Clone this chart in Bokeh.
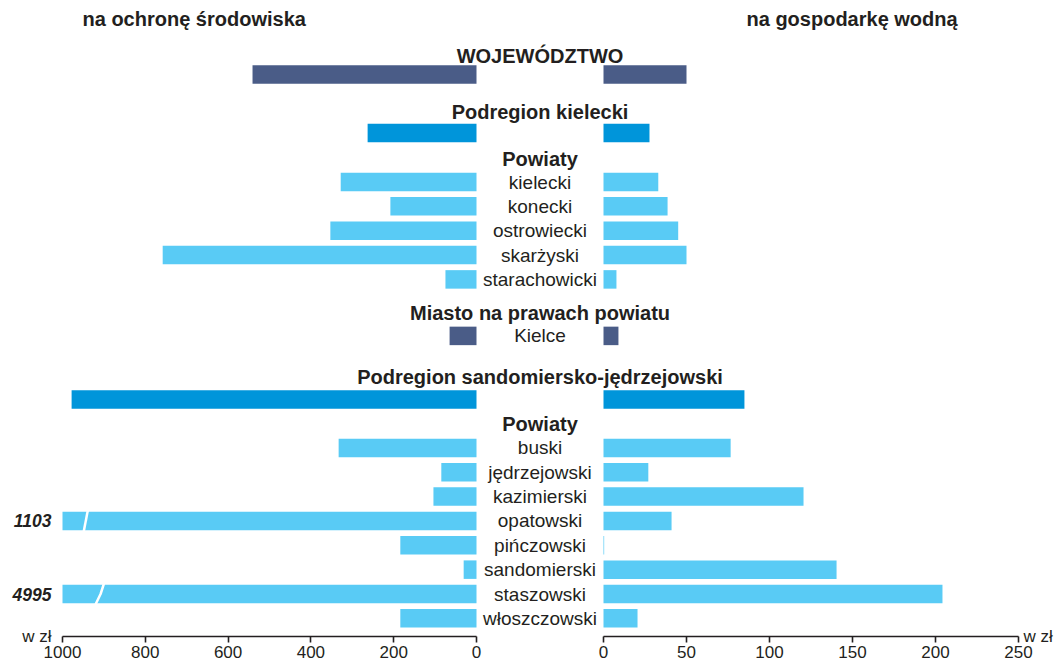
from bokeh.plotting import figure
from bokeh.models import Range1d, LinearAxis, FixedTicker
from bokeh.core.properties import value
from bokeh.embed import file_html
from bokeh.resources import INLINE

# ---------------- data ----------------
units = ["WOJEWÓDZTWO", "Podregion kielecki",
         "kielecki", "konecki", "ostrowiecki", "skarżyski", "starachowicki",
         "Kielce",
         "Podregion sandomiersko-jędrzejowski",
         "buski", "jędrzejowski", "kazimierski", "opatowski", "pińczowski",
         "sandomierski", "staszowski", "włoszczowski"]
unit_level = ["woj", "podregion",
              "powiat", "powiat", "powiat", "powiat", "powiat",
              "miasto",
              "podregion",
              "powiat", "powiat", "powiat", "powiat", "powiat",
              "powiat", "powiat", "powiat"]
env_protection = [541, 263,
                  328, 208, 353, 758, 75,
                  65,
                  978,
                  333, 85, 104, 1103, 184, 31, 4995, 184]
water_management = [50, 27.7,
                     33, 38.6, 45, 50, 7.8,
                     9,
                     84.9,
                     76.6, 27, 120.5, 41, 0.4, 140.4, 204.2, 20.5]
group_headers = ["WOJEWÓDZTWO", "Podregion kielecki", "Powiaty",
                 "Miasto na prawach powiatu",
                 "Podregion sandomiersko-jędrzejowski", "Powiaty"]
group_sizes = [1, 1, 5, 1, 1, 8]
left_ticks = [0, 200, 400, 600, 800, 1000]
right_ticks = [0, 50, 100, 150, 200, 250]
left_title = "na ochronę środowiska"
right_title = "na gospodarkę wodną"
unit_label = "w zł"
LEFT_MAX = 1000
RIGHT_MAX = 250

# ---------------- style / layout ----------------
FONT = "Liberation Sans"
TXT = "#231f20"
LEVEL_COLOR = {"woj": "#4a5c87", "podregion": "#0095da",
               "powiat": "#59cbf5", "miasto": "#4a5c87"}
W, H = 1058, 666
FRAME_X0, FRAME_X1 = 0, W
L_MAX_PX, L_ZERO_PX = 62, 476
R_ZERO_PX, R_MAX_PX = 603, 1018
MID_X = (L_ZERO_PX + R_ZERO_PX) / 2
l_per_px = LEFT_MAX / (L_ZERO_PX - L_MAX_PX)
r_per_px = RIGHT_MAX / (R_MAX_PX - R_ZERO_PX)
L_START = LEFT_MAX + (L_MAX_PX - FRAME_X0) * l_per_px
L_END = -(FRAME_X1 - L_ZERO_PX) * l_per_px
R_START = -(R_ZERO_PX - FRAME_X0) * r_per_px
R_END = (FRAME_X1 - R_ZERO_PX) * r_per_px

Y_TOP, Y_BOTTOM = 0, 666
AXIS_Y = 636
TITLE_Y = 18
HEAD_Y0 = 55
HEAD_TO_ROW = [19, 21.5, 23.5, 22.5, 22, 23.5]
GAP_AFTER = [37, 25.5, 34, 41.5, 25, 0]
ROW_STEP = 24.35
BAR_H = 18.5

header_y, row_y = [], []
y = HEAD_Y0
for g, n in enumerate(group_sizes):
    header_y.append(y)
    first = y + HEAD_TO_ROW[g]
    rows = [first + i * ROW_STEP for i in range(n)]
    row_y.extend(rows)
    y = rows[-1] + GAP_AFTER[g]

colors = [LEVEL_COLOR[l] for l in unit_level]
env_shown = [min(v, LEFT_MAX) for v in env_protection]

p = figure(width=W, height=H, output_backend="svg", toolbar_location=None,
           x_range=Range1d(L_START, L_END), y_range=Range1d(Y_BOTTOM, Y_TOP),
           x_axis_type=None, y_axis_type=None, min_border=0)
p.extra_x_ranges = {"right": Range1d(R_START, R_END),
                    "mid": Range1d(FRAME_X0, FRAME_X1)}
p.outline_line_color = None
p.background_fill_color = "white"
p.border_fill_color = "white"

# bars
p.hbar(y=row_y, left=0, right=env_shown, height=BAR_H,
       fill_color=colors, line_color=None)
p.hbar(y=row_y, left=0, right=water_management, height=BAR_H,
       fill_color=colors, line_color=None, x_range_name="right")

# break marks on truncated bars
BREAK_X = {"opatowski": [939, 948.6], "staszowski": [900, 908, 920]}
bx, by = [], []
for name, xs in BREAK_X.items():
    i = units.index(name)
    k = len(xs)
    ys = [row_y[i] - BAR_H / 2 - 1 + j * (BAR_H + 2) / (k - 1) for j in range(k)]
    bx.append(xs)
    by.append(ys)
p.multi_line(xs=bx, ys=by, line_color="white", line_width=2.5)

# truncated values
tr_idx = [i for i, v in enumerate(env_protection) if v > LEFT_MAX]
p.text(x=[LEFT_MAX] * len(tr_idx), y=[row_y[i] for i in tr_idx],
       text=[str(env_protection[i]) for i in tr_idx],
       x_offset=-11, text_align="right", text_baseline="middle",
       text_font=value(FONT), text_font_style="bold italic",
       text_font_size="17.5px", text_color=TXT)

# center labels
lab_idx = [i for i, l in enumerate(unit_level) if l in ("powiat", "miasto")]
p.text(x=[MID_X] * len(lab_idx), y=[row_y[i] for i in lab_idx],
       text=[units[i] for i in lab_idx], x_range_name="mid",
       text_align="center", text_baseline="middle",
       text_font=value(FONT), text_font_size="19px", text_color=TXT)
p.text(x=[MID_X] * len(group_headers), y=header_y, text=group_headers,
       x_range_name="mid", text_align="center", text_baseline="middle",
       text_font=value(FONT), text_font_style="bold",
       text_font_size="20px", text_color=TXT)

# panel titles
p.text(x=[82, 746], y=[TITLE_Y, TITLE_Y], text=[left_title, right_title],
       x_range_name="mid", text_align="left", text_baseline="middle",
       text_font=value(FONT), text_font_style="bold",
       text_font_size="20px", text_color=TXT)

# unit labels
p.text(x=[LEFT_MAX], y=[AXIS_Y], text=[unit_label], x_offset=-11,
       text_align="right", text_baseline="middle",
       text_font=value(FONT), text_font_size="17px", text_color=TXT)
p.text(x=[RIGHT_MAX], y=[AXIS_Y], text=[unit_label], x_offset=5,
       x_range_name="right", text_align="left", text_baseline="middle",
       text_font=value(FONT), text_font_size="17px", text_color=TXT)


def style_axis(ax):
    ax.axis_line_color = TXT
    ax.axis_line_width = 1.6
    ax.major_tick_line_color = TXT
    ax.major_tick_line_width = 1.6
    ax.major_tick_out = 6
    ax.major_tick_in = 0
    ax.minor_tick_line_color = None
    ax.major_label_text_font = FONT
    ax.major_label_text_font_size = "17px"
    ax.major_label_text_color = TXT
    ax.major_label_standoff = 3


ax_l = LinearAxis(ticker=FixedTicker(ticks=left_ticks, minor_ticks=[]),
                  bounds=(0, LEFT_MAX), fixed_location=AXIS_Y)
ax_r = LinearAxis(ticker=FixedTicker(ticks=right_ticks, minor_ticks=[]),
                  bounds=(0, RIGHT_MAX), fixed_location=AXIS_Y,
                  x_range_name="right")
style_axis(ax_l)
style_axis(ax_r)
p.add_layout(ax_l, "below")
p.add_layout(ax_r, "below")

open("out.html", "w").write(file_html(p, INLINE))
